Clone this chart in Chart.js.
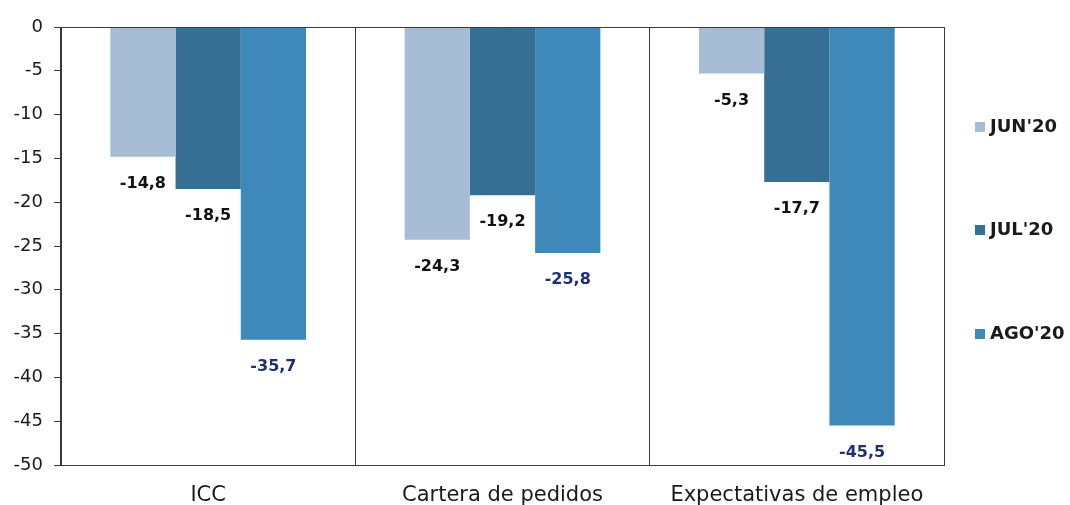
<!DOCTYPE html>
<html>
<head>
<meta charset="utf-8">
<script src="https://cdn.jsdelivr.net/npm/chart.js@4"></script>
<style>
  body { margin: 0; background: #fff; }
  #wrap { width: 1070px; height: 505px; }
</style>
</head>
<body>
<div id="wrap"><canvas id="c" width="1070" height="505"></canvas></div>
<script>
const categories = ['ICC', 'Cartera de pedidos', 'Expectativas de empleo'];
const seriesNames = ["JUN'20", "JUL'20", "AGO'20"];
const jun20 = [-14.8, -24.3, -5.3];
const jul20 = [-18.5, -19.2, -17.7];
const ago20 = [-35.7, -25.8, -45.5];

const barColors = ['#a7bdd5', '#366f93', '#3e89b9'];
const labelColors = ['#111111', '#111111', '#1e2f75'];
const FONT = "'DejaVu Sans', Arial, sans-serif";

// value labels under each bar end
const valueLabels = {
  id: 'valueLabels',
  afterDatasetsDraw(chart) {
    const ctx = chart.ctx;
    ctx.save();
    ctx.font = 'bold 16px ' + FONT;
    ctx.textAlign = 'center';
    ctx.textBaseline = 'middle';
    chart.data.datasets.forEach((ds, i) => {
      chart.getDatasetMeta(i).data.forEach((bar, j) => {
        ctx.fillStyle = labelColors[i];
        ctx.fillText(ds.data[j].toFixed(1).replace('.', ','), bar.x, bar.y + 27);
      });
    });
    ctx.restore();
  }
};

// top line at 0 and legend on the right
const frame = {
  id: 'frame',
  afterDraw(chart) {
    const ctx = chart.ctx;
    const a = chart.chartArea;
    ctx.save();
    ctx.strokeStyle = '#3a3a3a';
    ctx.lineWidth = 1;
    ctx.beginPath();
    ctx.moveTo(a.left, a.top + 0.5);
    ctx.lineTo(a.right, a.top + 0.5);
    ctx.stroke();

    ctx.font = 'bold 18px ' + FONT;
    ctx.textBaseline = 'middle';
    ctx.textAlign = 'left';
    const legendY = [127, 230, 334];
    chart.data.datasets.forEach((ds, i) => {
      const y = legendY[i];
      ctx.fillStyle = ds.backgroundColor;
      ctx.fillRect(975, y - 5, 10, 10);
      ctx.fillStyle = '#1a1a1a';
      ctx.fillText(ds.label, 990, y);
    });
    ctx.restore();
  }
};

new Chart(document.getElementById('c').getContext('2d'), {
  type: 'bar',
  data: {
    labels: categories,
    datasets: [
      { label: seriesNames[0], data: jun20, backgroundColor: barColors[0] },
      { label: seriesNames[1], data: jul20, backgroundColor: barColors[1] },
      { label: seriesNames[2], data: ago20, backgroundColor: barColors[2] }
    ]
  },
  options: {
    responsive: false,
    animation: false,
    layout: { padding: { top: 27, right: 126, left: 0, bottom: 0 } },
    datasets: { bar: { categoryPercentage: 0.665, barPercentage: 1.0 } },
    plugins: {
      legend: { display: false },
      tooltip: { enabled: false }
    },
    scales: {
      x: {
        afterFit: s => { s.height = 40; },
        grid: { display: true, offset: true, drawTicks: false, color: '#3a3a3a', lineWidth: 1 },
        border: { display: true, color: '#3a3a3a' },
        ticks: { color: '#1a1a1a', font: { family: FONT, size: 21 }, padding: 18 }
      },
      y: {
        min: -50,
        max: 0,
        afterFit: s => { s.width = 61; },
        grid: { drawOnChartArea: false, drawTicks: true, tickLength: 7, color: '#3a3a3a' },
        border: { display: true, color: '#3a3a3a' },
        ticks: { stepSize: 5, color: '#1a1a1a', font: { family: FONT, size: 18 }, padding: 11 }
      }
    }
  },
  plugins: [valueLabels, frame]
});
</script>
</body>
</html>
